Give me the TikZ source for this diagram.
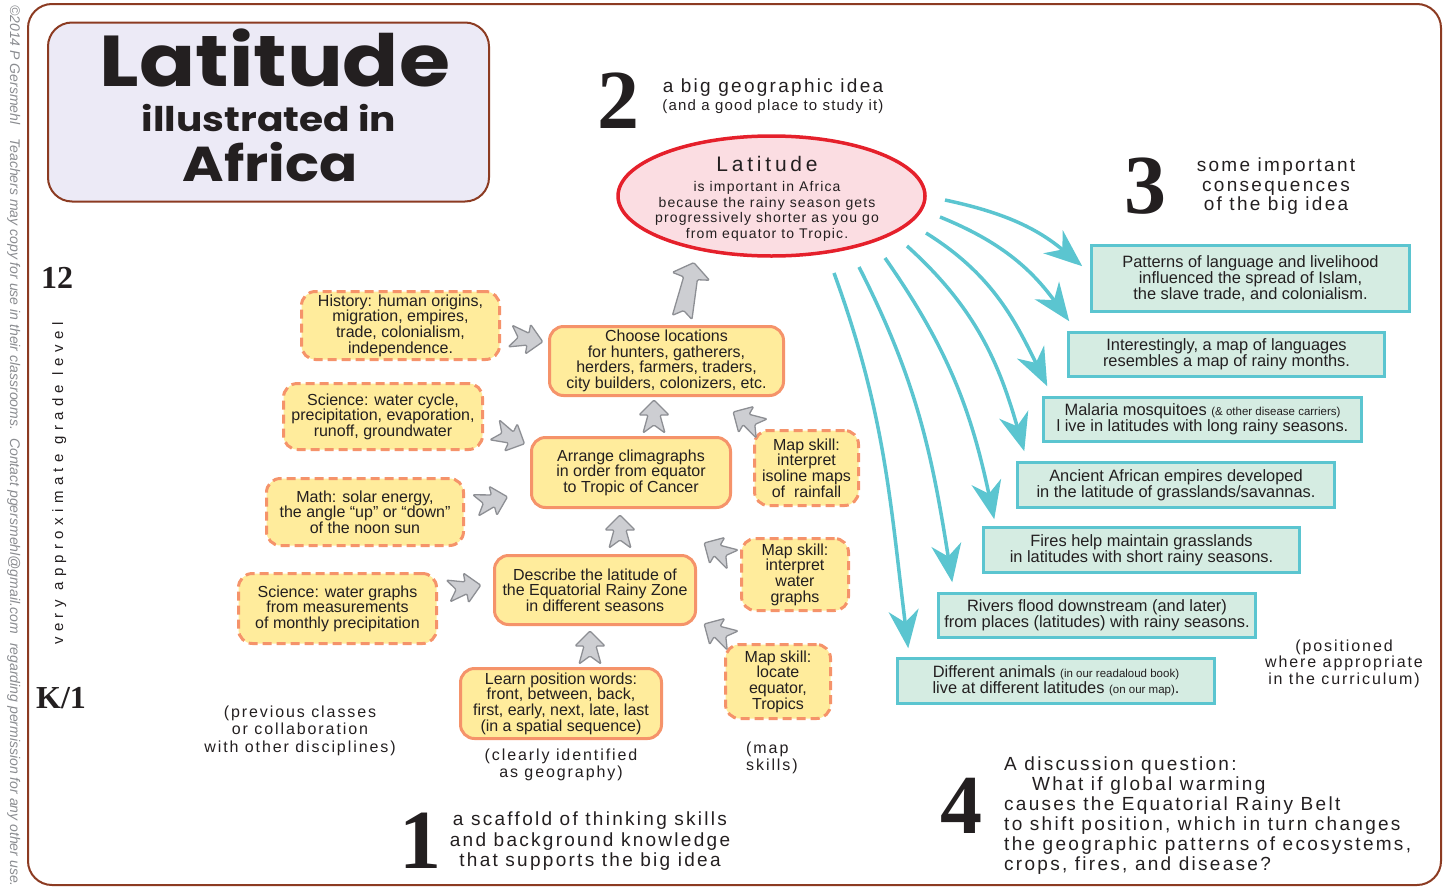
\documentclass[tikz,border=0pt]{standalone}
\usepackage{fontspec}
\setmainfont{Liberation Sans}
\newfontfamily\trkA{Liberation Sans}[LetterSpace=12]
\newfontfamily\trkB{Liberation Sans}[LetterSpace=8]
\newfontfamily\trkC{Liberation Sans}[LetterSpace=36]
\newfontfamily\trkD{Liberation Sans}[LetterSpace=18]
\newfontfamily\titlefont{Poppins}[FakeStretch=1.15]
\newfontfamily\numfont{Liberation Serif}
\usetikzlibrary{shapes.geometric,arrows.meta}
\definecolor{brownc}{HTML}{8C3B22}
\definecolor{lav}{HTML}{ECEAF6}
\definecolor{redc}{HTML}{E5202B}
\definecolor{pinkc}{HTML}{FBDDE2}
\definecolor{yfill}{HTML}{FFEC9C}
\definecolor{yline}{HTML}{F5936A}
\definecolor{tline}{HTML}{5BC5D0}
\definecolor{tfill}{HTML}{D5ECE2}
\definecolor{gfill}{HTML}{CDCED2}
\definecolor{gline}{HTML}{8D8F94}
\definecolor{ink}{HTML}{231F20}
\definecolor{cgray}{HTML}{8A8C90}
\newcommand{\smalltxt}{\fontsize{11.5}{12}\selectfont}
\begin{document}
\begin{tikzpicture}[x=1pt,y=1pt,
  lbl/.style={anchor=base, inner sep=0pt, text=ink},
  ybox/.style={rectangle, rounded corners=14pt, draw=yline, fill=yfill, line width=3pt, align=center, inner sep=0pt, text=ink, font=\fontsize{16}{15.6}\selectfont},
  ydash/.style={ybox, dash pattern=on 9pt off 5pt},
  tbox/.style={rectangle, draw=tline, fill=tfill, line width=3.5pt, align=center, inner sep=0pt, text=ink, font=\fontsize{16.4}{16}\selectfont},
  tarrow/.style={draw=tline, line width=3.5pt, -{Stealth[length=38pt,width=30pt,inset=12pt]}},
  garrowstyle/.style={draw=gline, fill=gfill, line width=1.3pt, line join=round, rounded corners=1.2pt},
  garrow/.pic={\path[garrowstyle] (16,0) -- (1,15) -- (1,6) -- (-17,11) -- (-9,0) -- (-17,-11) -- (1,-6) -- (1,-15) -- cycle;},
  bigarrow/.pic={\path[garrowstyle] (28,0) -- (14,19) -- (12,7) -- (-28,10) -- (-21,0) -- (-28,-10) -- (12,-7) -- (14,-19) -- cycle;},
  copyr/.style={rotate=-90, anchor=base west, inner sep=0pt, text=cgray, font=\itshape\fontsize{14}{14}\selectfont},
  numb/.style={anchor=base, inner sep=0pt, text=ink, font=\numfont\bfseries\fontsize{84}{84}\selectfont},
  head/.style={lbl, font=\trkA\fontsize{19}{19}\selectfont},
  note/.style={lbl, font=\trkA\fontsize{16}{16}\selectfont}
]
\useasboundingbox (0,0) rectangle (1447,-886);
% outer frame
\draw[brownc, line width=2pt, rounded corners=24pt] (28,-4) rectangle (1441,-885);
% copyright
\node[copyr] (cp1) at (10,-5) {©2014 P Gersmehl};
\node[copyr] (cp2) at (10,-138) {Teachers may copy for use in their classrooms.};
\node[copyr] (cp3) at (10,-438) {Contact pgersmehl@gmail.com};
\node[copyr] (cp4) at (10,-643) {regarding permission for any other use.};
% grade level
\node[lbl, font=\numfont\bfseries\fontsize{32}{32}\selectfont] (g12) at (57,-288) {12};
\node[lbl, font=\numfont\bfseries\fontsize{32}{32}\selectfont] (gK) at (61,-708) {K/1};
\node[rotate=90, anchor=base west, inner sep=0pt, text=ink, font=\trkC\fontsize{15}{15}\selectfont] (glev) at (63,-645) {very approximate grade level};
% title
\node[draw=brownc, fill=lav, line width=2pt, rounded corners=24pt, minimum width=441, minimum height=179, inner sep=0pt] (title) at (268.5,-112) {};
\node[lbl, font=\titlefont\bfseries\fontsize{72}{72}\selectfont] (tt1) at (275,-86) {Latitude};
\node[lbl, font=\titlefont\bfseries\fontsize{34}{34}\selectfont] (tt2) at (269,-131) {illustrated in};
\node[lbl, font=\titlefont\bfseries\fontsize{49}{49}\selectfont] (tt3) at (270,-181) {Africa};
% 2
\node[numb] (n2) at (618,-128) {2};
\node[head] (h2a) at (773,-92) {a big geographic idea};
\node[lbl, font=\trkB\fontsize{15}{15}\selectfont] (h2b) at (773,-110) {(and a good place to study it)};
% ellipse
\node[ellipse, draw=redc, fill=pinkc, line width=3.5pt, minimum width=307, minimum height=120, inner sep=0pt] (idea) at (771.5,-196) {};
\node[lbl, font=\trkD\fontsize{21}{21}\selectfont] (e0) at (767,-171) {Latitude};
\node[lbl, font=\trkB\fontsize{14}{14}\selectfont] (e1) at (767,-191) {is important in Africa};
\node[lbl, font=\trkB\fontsize{14}{14}\selectfont] (e2) at (767,-207) {because the rainy season gets};
\node[lbl, font=\trkB\fontsize{14}{14}\selectfont] (e3) at (767,-222) {progressively shorter as you go};
\node[lbl, font=\trkB\fontsize{14}{14}\selectfont] (e4) at (767,-238) {from equator to Tropic.};
% 3
\node[numb] (n3) at (1145,-213) {3};
\node[head] (h3a) at (1276,-171) {some important};
\node[head] (h3b) at (1276,-191) {consequences};
\node[head] (h3c) at (1276,-210) {of the big idea};
% teal boxes
\node[tbox, minimum width=318, minimum height=66] (T1) at (1250.5,-278.5) {Patterns of language and livelihood\\influenced the spread of Islam,\\the slave trade, and colonialism.};
\node[tbox, minimum width=316, minimum height=44] (T2) at (1226.5,-354.5) {Interestingly, a map of languages\\resembles a map of rainy months.};
\node[tbox, minimum width=318, minimum height=44] (T3) at (1202.5,-419.5) {Malaria mosquitoes {\smalltxt (\& other disease carriers)}\\l ive in latitudes with long rainy seasons.};
\node[tbox, minimum width=317, minimum height=45] (T4) at (1176,-485) {Ancient African empires developed\\in the latitude of grasslands/savannas.};
\node[tbox, minimum width=316, minimum height=45] (T5) at (1141.5,-550) {Fires help maintain grasslands\\in latitudes with short rainy seasons.};
\node[tbox, minimum width=317, minimum height=44] (T6) at (1097,-615.5) {Rivers flood downstream (and later)\\from places (latitudes) with rainy seasons.};
\node[tbox, minimum width=317, minimum height=45] (T7) at (1056,-681) {Different animals {\smalltxt (in our readaloud book)}\\live at different latitudes {\smalltxt (on our map)}.};
% teal arrows
\coordinate (s1) at (945,-200);
\coordinate (s2) at (940,-217);
\coordinate (s3) at (926,-233);
\coordinate (s4) at (907,-246);
\coordinate (s5) at (885,-258);
\coordinate (s6) at (859,-267);
\coordinate (s7) at (834,-273);
\draw[tarrow] (s1) to[out=-12,in=140] ([shift={(-7.5,-22.5)}]T1.north west);
\draw[tarrow] (s2) to[out=-22,in=126] ([shift={(2.5,9.5)}]T2.north west);
\draw[tarrow] (s3) to[out=-32,in=116] ([shift={(5.5,9.5)}]T3.north west);
\draw[tarrow] (s4) to[out=-42,in=106] ([shift={(8.5,9.5)}]T4.north west);
\draw[tarrow] (s5) to[out=-55,in=102] ([shift={(12.5,6.5)}]T5.north west);
\draw[tarrow] (s6) to[out=-63,in=99] ([shift={(15.5,9.5)}]T6.north west);
\draw[tarrow] (s7) to[out=-70,in=97] ([shift={(12.5,8.5)}]T7.north west);
\node[note] (p1) at (1344,-651) {(positioned};
\node[note] (p2) at (1344,-667) {where appropriate};
\node[note] (p3) at (1344,-684) {in the curriculum)};
% yellow boxes
\node[ybox, minimum width=234, minimum height=69] (C1) at (666.5,-361) {Choose locations\\for hunters, gatherers,\\herders, farmers, traders,\\city builders, colonizers, etc.};
\node[ybox, minimum width=199, minimum height=70] (C2) at (631,-472.5) {Arrange climagraphs\\in order from equator\\to Tropic of Cancer};
\node[ybox, minimum width=201, minimum height=69] (C3) at (595,-590) {Describe the latitude of\\the Equatorial Rainy Zone\\in different seasons};
\node[ybox, minimum width=201, minimum height=70] (C4) at (561,-703.5) {Learn position words:\\front, between, back,\\first, early, next, late, last\\(in a spatial sequence)};
\node[ydash, minimum width=198, minimum height=68] (L1) at (400.5,-325.5) {History: human origins,\\migration, empires,\\trade, colonialism,\\independence.};
\node[ydash, minimum width=199, minimum height=66] (L2) at (383,-416.5) {Science: water cycle,\\precipitation, evaporation,\\runoff, groundwater};
\node[ydash, minimum width=197, minimum height=67] (L3) at (365,-512) {Math: solar energy,\\the angle “up” or “down”\\of the noon sun};
\node[ydash, minimum width=198, minimum height=70] (L4) at (337.5,-608.5) {Science: water graphs\\from measurements\\of monthly precipitation};
\node[ydash, minimum width=104, minimum height=75] (R1) at (806.5,-468) {Map skill:\\interpret\\isoline maps\\of~~rainfall};
\node[ydash, minimum width=107, minimum height=72] (R2) at (795,-574.5) {Map skill:\\interpret\\water\\graphs};
\node[ydash, minimum width=105, minimum height=74] (R3) at (778,-681.5) {Map skill:\\locate\\equator,\\Tropics};
% gray arrows
\pic[rotate=-10] (ga1) at (527,-339) {garrow};
\pic[rotate=-25] (ga2) at (510,-437) {garrow};
\pic[rotate=15] (ga3) at (492,-501) {garrow};
\pic[rotate=10] (ga4) at (465,-588) {garrow};
\pic[rotate=90] (ga5) at (654,-416) {garrow};
\pic[rotate=90] (ga6) at (620,-531) {garrow};
\pic[rotate=90] (ga7) at (590,-647) {garrow};
\pic[rotate=150] (ga8) at (747,-420) {garrow};
\pic[rotate=150] (ga9) at (718,-551) {garrow};
\pic[rotate=150] (ga10) at (718,-632) {garrow};
\pic[rotate=78] (ga11) at (688,-290) {bigarrow};
% notes
\node[note] (q1) at (300,-717) {(previous classes};
\node[note] (q2) at (300,-734) {or collaboration};
\node[note] (q3) at (300,-752) {with other disciplines)};
\node[note] (r1) at (561,-760) {(clearly identified};
\node[note] (r2) at (561,-777) {as geography)};
\node[note, anchor=base west] (m1) at (746,-753) {(map};
\node[note, anchor=base west] (m2) at (746,-770) {skills)};
% 1
\node[numb] (n1) at (420,-868) {1};
\node[head] (b1) at (590,-825) {a scaffold of thinking skills};
\node[head] (b2) at (590,-846) {and background knowledge};
\node[head] (b3) at (590,-866) {that supports the big idea};
% 4
\node[numb] (n4) at (961,-833) {4};
\node[head, anchor=base west] (d1) at (1004,-770) {A discussion question:};
\node[head, anchor=base west] (d2) at (1032,-790) {What if global warming};
\node[head, anchor=base west] (d3) at (1004,-810) {causes the Equatorial Rainy Belt};
\node[head, anchor=base west] (d4) at (1004,-830) {to shift position, which in turn changes};
\node[head, anchor=base west] (d5) at (1004,-850) {the geographic patterns of ecosystems,};
\node[head, anchor=base west] (d6) at (1004,-870) {crops, fires, and disease?};
\end{tikzpicture}
\end{document}
